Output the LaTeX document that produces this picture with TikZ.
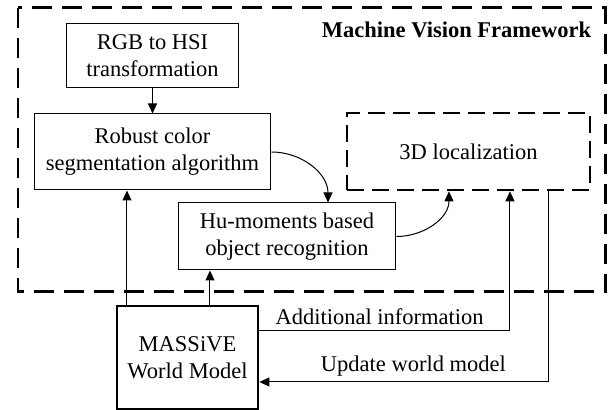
\documentclass[tikz,border=0pt]{standalone}
\usepackage{fontspec}
\setmainfont{Liberation Serif}
\usepackage{tikz}
\usetikzlibrary{arrows.meta,positioning}

\begin{document}
\begin{tikzpicture}[x=0.6pt,y=-0.6pt,
    font=\fontsize{13.5}{16.2}\selectfont,
    box/.style={draw, line width=0.6pt, align=center, inner sep=2pt},
    wmbox/.style={box, line width=1.6pt},
    locbox/.style={box, line width=1.6pt, dash pattern=on 10pt off 5pt},
    frame/.style={line width=1.8pt, dash pattern=on 12pt off 6pt},
    arr/.style={line width=0.6pt, -{Triangle[length=6pt,width=5.4pt]}}]
  \useasboundingbox (0,0) rectangle (615,410);
  % outer frame of the vision part
  \draw[frame] (18,8) rectangle (606,292);
  \node[font=\fontsize{13.5}{16.2}\selectfont\bfseries, anchor=east] (title) at (597,30) {Machine Vision Framework};
  % blocks
  \node[box, minimum width=103.8pt, minimum height=38.4pt] (rgb) at (152.5,56) {RGB to HSI\\transformation};
  \node[box, minimum width=142.2pt, minimum height=45.6pt] (robust) at (152.5,152) {Robust color\\segmentation algorithm};
  \node[box, minimum width=130.8pt, minimum height=40.2pt] (hu) at (287,236.5) {Hu-moments based\\object recognition};
  \node[locbox, minimum width=145.8pt, minimum height=46.2pt] (loc) at (468.5,151.5) {3D localization};
  \node[wmbox, minimum width=84.6pt, minimum height=61.8pt] (wm) at (187.5,357.5) {MASSiVE\\World Model};
  % connections
  \draw[arr] (rgb) -- (robust);
  \draw[arr] (wm.north -| robust.south) ++(-25.5*0.6pt,0) coordinate (wmA) -- (wmA |- robust.south);
  \draw[arr] ([xshift=13.5pt]wm.north) -- ([xshift=13.5pt]wm.north |- hu.south);
  \draw[arr] (robust.east) to[out=0,in=90] ([xshift=24.6pt]hu.north);
  \draw[arr] (hu.east) to[out=0,in=-90] ([xshift=-11.7pt]loc.south);
  \draw[arr] ([yshift=15.9pt]wm.east) -| node[above, pos=0.24] (addinfo) {Additional information} ([xshift=24.9pt]loc.south);
  \draw[arr] ([xshift=48.3pt]loc.south) |- node[above, pos=0.734] (update) {Update world model} ([yshift=-14.7pt]wm.east);
\end{tikzpicture}
\end{document}
